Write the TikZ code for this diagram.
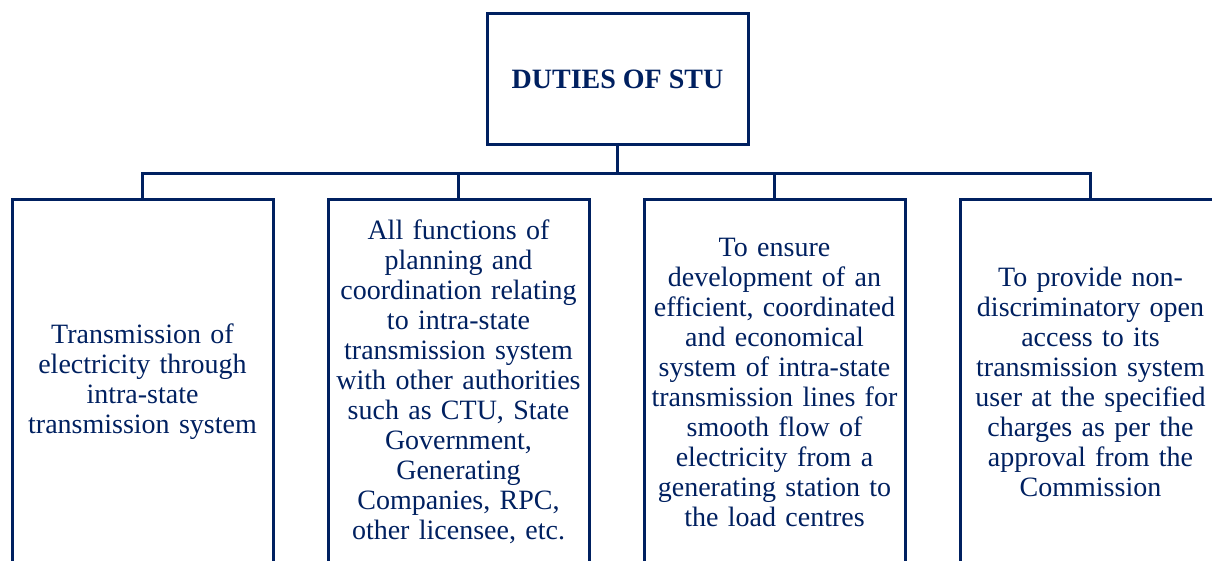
\documentclass[tikz,border=0pt]{standalone}
\usepackage{fontspec}
\setmainfont{Liberation Serif}
\usetikzlibrary{calc}
\definecolor{stublue}{HTML}{002060}

\begin{document}
\begin{tikzpicture}[node distance=158pt,line width=1.5pt]
        \tikzstyle{head}=[draw=stublue,text=stublue,minimum width=130.5pt,minimum height=65.5pt,font=\fontsize{14}{15}\selectfont\bfseries]
        \tikzstyle{duty}=[draw=stublue,text=stublue,minimum width=130.5pt,minimum height=182pt,inner sep=2pt,text width=126pt,align=center,font=\fontsize{14}{15}\selectfont]

        \useasboundingbox (0,0) rectangle (606pt,-280.5pt);
        \clip (0,0) rectangle (606pt,-280.5pt);

        \node[head]  (STU) at (308.75pt,-39.75pt) {DUTIES OF STU};
        \node[duty]  (D1)  at (71.25pt,-191pt)    {Transmission of\\ electricity through\\ intra-state\\ transmission system};
        \node[duty]  (D2)  [right of=D1]          {All functions of\\ planning and\\ coordination relating\\ to intra-state\\ transmission system\\ with other authorities\\ such as CTU, State\\ Government,\\ Generating\\ Companies, RPC,\\ other licensee, etc.};
        \node[duty]  (D3)  [right of=D2]          {To ensure\\ development of an\\ efficient, coordinated\\ and economical\\ system of intra-state\\ transmission lines for\\ smooth flow of\\ electricity from a\\ generating station to\\ the load centres};
        \node[duty]  (D4)  [right of=D3]          {To provide non-\\ discriminatory open\\ access to its\\ transmission system\\ user at the specified\\ charges as per the\\ approval from the\\ Commission};

        % bus line under the head box
        \coordinate (bus) at ($(STU.south)+(0,-13.5pt)$);
        \draw[stublue] (STU.south) -- (bus);
        \foreach \d in {D1,D2,D3,D4}
                \draw[stublue] (\d.north) |- (bus);
\end{tikzpicture}
\end{document}
